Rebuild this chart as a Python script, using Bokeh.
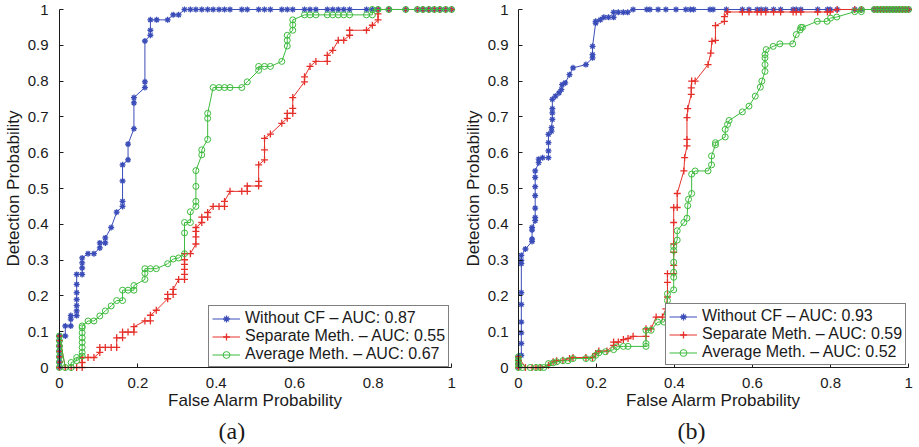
from bokeh.plotting import figure
from bokeh.layouts import row
from bokeh.models import Range1d, FixedTicker, CustomJSTickFormatter, Title, LinearAxis
from bokeh.embed import file_html
from bokeh.resources import INLINE

# ---------------- data: panel (a) ----------------
a_top_x = [0.334, 0.348, 0.363, 0.378, 0.392, 0.407, 0.421, 0.435, 0.465, 0.479, 0.508, 0.523,
           0.538, 0.567, 0.581, 0.595, 0.625, 0.639, 0.654, 0.683, 0.697, 0.711, 0.725, 0.74,
           0.783, 0.798, 0.8125, 0.84, 0.883, 0.913, 0.927, 0.942, 0.956, 0.97, 0.985, 1.0]

a_wo_x = [0, 0, 0, 0, 0, 0, 0, 0.015, 0.015, 0.029, 0.029, 0.029, 0.044, 0.044, 0.044, 0.044,
          0.044, 0.044, 0.044, 0.058, 0.058, 0.058, 0.058, 0.073, 0.088, 0.103, 0.103, 0.117,
          0.117, 0.132, 0.146, 0.161, 0.161, 0.161, 0.161, 0.175, 0.175, 0.19, 0.19, 0.19,
          0.218, 0.218, 0.218, 0.232, 0.232, 0.232, 0.248, 0.276, 0.29, 0.304, 0.319] + a_top_x
a_wo_y = [0.0, 0.015, 0.03, 0.045, 0.06, 0.075, 0.088, 0.088, 0.116, 0.116, 0.135, 0.145, 0.145,
          0.158, 0.173, 0.19, 0.209, 0.232, 0.26, 0.26, 0.278, 0.292, 0.306, 0.318, 0.318,
          0.334, 0.348, 0.348, 0.362, 0.391, 0.434, 0.45, 0.464, 0.521, 0.566, 0.58, 0.624,
          0.667, 0.739, 0.754, 0.782, 0.798, 0.912, 0.928, 0.942, 0.971, 0.971, 0.971, 0.985,
          0.985, 1.0] + [1.0] * len(a_top_x)

a_sep_x = [0, 0, 0, 0, 0, 0, 0, 0.015, 0.03, 0.044, 0.058, 0.058, 0.058, 0.073, 0.088, 0.103,
           0.103, 0.117, 0.132, 0.146, 0.146, 0.161, 0.161, 0.175, 0.19, 0.19, 0.218, 0.232,
           0.232, 0.247, 0.276, 0.276, 0.29, 0.29, 0.304, 0.319, 0.319, 0.319, 0.319, 0.319,
           0.319, 0.334, 0.348, 0.348, 0.348, 0.348, 0.363, 0.363, 0.378, 0.378, 0.392, 0.407,
           0.421, 0.421, 0.435, 0.465, 0.479, 0.479, 0.508, 0.508, 0.508, 0.523, 0.523, 0.523,
           0.538, 0.567, 0.581, 0.581, 0.595, 0.595, 0.595, 0.625, 0.625, 0.639, 0.654, 0.683,
           0.683, 0.697, 0.711, 0.725, 0.74, 0.74, 0.783, 0.798, 0.8125, 0.8125, 0.8125,
           0.84, 0.883, 0.913, 0.927, 0.942, 0.956, 0.97, 0.985, 1.0]
a_sep_y = [0.0, 0.015, 0.03, 0.045, 0.06, 0.075, 0.088, 0.0, 0.0, 0.0, 0.0, 0.014, 0.028, 0.028,
           0.028, 0.042, 0.056, 0.056, 0.056, 0.056, 0.083, 0.083, 0.099, 0.099, 0.099, 0.114,
           0.13, 0.13, 0.146, 0.16, 0.192, 0.204, 0.204, 0.218, 0.246, 0.246, 0.26, 0.274,
           0.288, 0.301, 0.318, 0.318, 0.345, 0.365, 0.38, 0.391, 0.405, 0.42, 0.42, 0.433,
           0.45, 0.45, 0.45, 0.464, 0.492, 0.492, 0.492, 0.507, 0.507, 0.52, 0.566, 0.58,
           0.608, 0.64, 0.652, 0.682, 0.696, 0.71, 0.71, 0.724, 0.754, 0.798, 0.812, 0.841,
           0.855, 0.855, 0.872, 0.886, 0.914, 0.914, 0.928, 0.942, 0.942, 0.956, 0.971, 0.988,
           1.0, 1.0, 1.0, 1.0, 1.0, 1.0, 1.0, 1.0, 1.0, 1.0]

a_avg_x = [0, 0, 0, 0, 0, 0, 0, 0.015, 0.03, 0.03, 0.044, 0.044, 0.058, 0.058, 0.058, 0.058,
           0.058, 0.058, 0.058, 0.058, 0.073, 0.088, 0.103, 0.117, 0.132, 0.146, 0.161, 0.161,
           0.175, 0.19, 0.19, 0.218, 0.218, 0.218, 0.232, 0.247, 0.276, 0.29, 0.304, 0.319,
           0.319, 0.319, 0.334, 0.334, 0.348, 0.348, 0.348, 0.348, 0.363, 0.363, 0.378, 0.378,
           0.378, 0.392, 0.407, 0.421, 0.435, 0.465, 0.479, 0.508, 0.508, 0.523, 0.538, 0.567,
           0.581, 0.581, 0.581, 0.595, 0.595, 0.595, 0.625, 0.639, 0.654, 0.683, 0.697, 0.711,
           0.725, 0.74, 0.783, 0.798, 0.798, 0.8125, 0.84, 0.883, 0.913, 0.927, 0.942, 0.956,
           0.97, 0.985, 1.0]
a_avg_y = [0.0, 0.015, 0.03, 0.045, 0.06, 0.075, 0.088, 0.0, 0.0, 0.014, 0.019, 0.028, 0.032,
           0.042, 0.056, 0.07, 0.083, 0.097, 0.111, 0.116, 0.13, 0.13, 0.144, 0.158, 0.172,
           0.187, 0.187, 0.216, 0.216, 0.216, 0.229, 0.246, 0.263, 0.276, 0.276, 0.276, 0.29,
           0.303, 0.306, 0.318, 0.376, 0.405, 0.405, 0.435, 0.45, 0.464, 0.506, 0.55, 0.594,
           0.608, 0.637, 0.696, 0.71, 0.782, 0.782, 0.782, 0.782, 0.782, 0.798, 0.83, 0.841,
           0.841, 0.841, 0.855, 0.898, 0.914, 0.928, 0.942, 0.957, 0.971, 0.985, 0.985, 0.985,
           0.985, 0.985, 0.985, 0.985, 0.985, 0.985, 0.985, 1.0, 1.0, 1.0, 1.0, 1.0, 1.0, 1.0,
           1.0, 1.0, 1.0, 1.0]

# ---------------- data: panel (b) ----------------
b_end_x = [0.862, 0.879, 0.912, 0.92, 0.928, 0.936, 0.944, 0.952, 0.96, 0.968, 0.976, 0.984,
           0.992, 1.0]
b_top_x = [0.329, 0.337, 0.358, 0.378, 0.404, 0.429, 0.441, 0.449, 0.491, 0.499, 0.533, 0.574,
           0.591, 0.612, 0.622, 0.634, 0.654, 0.672, 0.704, 0.712, 0.724, 0.767, 0.792, 0.799,
           0.817] + b_end_x

b_wo_x = [0, 0, 0, 0, 0.0075, 0.0075, 0.0075, 0.0075, 0.0075, 0.0075, 0.0075, 0.0075, 0.0075,
          0.018, 0.035, 0.035, 0.035, 0.035, 0.043, 0.043, 0.043, 0.043, 0.043, 0.043, 0.043,
          0.052, 0.052, 0.062, 0.077, 0.077, 0.077, 0.077, 0.085, 0.085, 0.087, 0.087, 0.087,
          0.087, 0.095, 0.104, 0.11, 0.112, 0.12, 0.131, 0.14, 0.173, 0.19, 0.19, 0.19, 0.198,
          0.198, 0.21, 0.219, 0.231, 0.244, 0.244, 0.256, 0.269, 0.28, 0.294] + b_top_x
b_wo_y = [0.0, 0.01, 0.02, 0.03, 0.034, 0.067, 0.097, 0.127, 0.176, 0.209, 0.29, 0.299, 0.313,
          0.331, 0.352, 0.359, 0.384, 0.391, 0.41, 0.419, 0.445, 0.48, 0.505, 0.531, 0.549,
          0.572, 0.582, 0.586, 0.586, 0.605, 0.628, 0.651, 0.66, 0.67, 0.693, 0.711, 0.723,
          0.749, 0.758, 0.767, 0.776, 0.79, 0.795, 0.818, 0.837, 0.846, 0.865, 0.874, 0.897,
          0.962, 0.967, 0.971, 0.978, 0.978, 0.978, 0.992, 0.992, 0.992, 0.992, 1.0] + [1.0] * len(b_top_x)

b_sep_x = [0, 0, 0, 0, 0.018, 0.035, 0.045, 0.056, 0.077, 0.089, 0.098, 0.114, 0.131, 0.14,
           0.173, 0.19, 0.198, 0.206, 0.227, 0.244, 0.244, 0.256, 0.269, 0.281, 0.294, 0.327,
           0.327, 0.34, 0.353, 0.369, 0.378, 0.382, 0.382, 0.382, 0.398, 0.398, 0.398, 0.398,
           0.398, 0.398, 0.407, 0.407, 0.424, 0.426, 0.432, 0.432, 0.432, 0.434, 0.443, 0.443,
           0.444, 0.453, 0.486, 0.493, 0.496, 0.505, 0.505, 0.528, 0.528, 0.536, 0.574, 0.591,
           0.612, 0.622, 0.634, 0.654, 0.672, 0.704, 0.712, 0.724, 0.767, 0.792, 0.799,
           0.817] + b_end_x
b_sep_y = [0.0, 0.01, 0.02, 0.03, 0.0, 0.0, 0.0, 0.0, 0.006, 0.016, 0.019, 0.02, 0.025, 0.028,
           0.028, 0.028, 0.039, 0.046, 0.046, 0.062, 0.071, 0.071, 0.078, 0.081, 0.087, 0.087,
           0.108, 0.108, 0.141, 0.141, 0.164, 0.197, 0.238, 0.262, 0.262, 0.285, 0.322, 0.345,
           0.405, 0.447, 0.447, 0.486, 0.549, 0.586, 0.619, 0.637, 0.698, 0.723, 0.763, 0.781,
           0.8, 0.8, 0.846, 0.878, 0.911, 0.914, 0.955, 0.967, 0.98, 0.993, 0.993, 0.993, 0.993,
           0.993, 0.993, 0.993, 0.993, 0.993, 0.993, 0.993, 0.993, 0.993, 0.993,
           1.0] + [1.0] * len(b_end_x)

b_avg_x = [0, 0, 0, 0, 0.01, 0.03, 0.045, 0.056, 0.065, 0.077, 0.089, 0.098, 0.114, 0.127,
           0.14, 0.173, 0.19, 0.198, 0.206, 0.223, 0.244, 0.252, 0.269, 0.281, 0.327, 0.327,
           0.327, 0.34, 0.357, 0.373, 0.382, 0.382, 0.382, 0.398, 0.398, 0.398, 0.398, 0.398,
           0.398, 0.407, 0.407, 0.424, 0.432, 0.434, 0.436, 0.444, 0.444, 0.453, 0.486, 0.495,
           0.495, 0.505, 0.505, 0.53, 0.53, 0.536, 0.54, 0.574, 0.591, 0.607, 0.62, 0.624,
           0.632, 0.632, 0.632, 0.632, 0.635, 0.653, 0.67, 0.703, 0.712, 0.722, 0.724, 0.728,
           0.766, 0.791, 0.8, 0.816, 0.862, 0.879, 0.879, 0.912, 0.92, 0.928, 0.936, 0.944,
           0.952, 0.96, 0.968, 0.976, 0.984, 0.992, 1.0]
b_avg_y = [0.0, 0.01, 0.02, 0.03, 0.0, 0.0, 0.0, 0.0, 0.0, 0.011, 0.013, 0.016, 0.019, 0.019,
           0.025, 0.025, 0.025, 0.034, 0.041, 0.044, 0.05, 0.058, 0.059, 0.059, 0.059, 0.067,
           0.104, 0.104, 0.127, 0.127, 0.15, 0.187, 0.206, 0.217, 0.252, 0.266, 0.294, 0.327,
           0.338, 0.356, 0.382, 0.405, 0.417, 0.452, 0.47, 0.486, 0.54, 0.549, 0.549, 0.566,
           0.591, 0.622, 0.628, 0.644, 0.665, 0.679, 0.69, 0.714, 0.73, 0.758, 0.783, 0.8,
           0.827, 0.846, 0.865, 0.874, 0.888, 0.897, 0.904, 0.904, 0.93, 0.943, 0.95, 0.95,
           0.967, 0.967, 0.976, 0.979, 0.994, 0.994, 1.0, 1.0, 1.0, 1.0, 1.0, 1.0, 1.0, 1.0,
           1.0, 1.0, 1.0, 1.0, 1.0]

a_labels = ["Without CF \u2013 AUC: 0.87", "Separate Meth. \u2013 AUC: 0.55", "Average Meth. \u2013 AUC: 0.67"]
b_labels = ["Without CF \u2013 AUC: 0.93", "Separate Meth. \u2013 AUC: 0.59", "Average Meth. \u2013 AUC: 0.52"]

x_ticks = [0, 0.2, 0.4, 0.6, 0.8, 1]
y_ticks = [0, 0.1, 0.2, 0.3, 0.4, 0.5, 0.6, 0.7, 0.8, 0.9, 1]

BLUE = "#3b4db8"
RED = "#e5302a"
GREEN = "#3dbb3d"
FONT = "Liberation Sans"
INK = "#1a1a1a"
PAD = 4.0


def make_panel(series, labels, tag, width, axis_x, axis_y0, pxw, pxh, ylab_standoff, tag_left,
               legend_pos):
    padx = PAD / pxw
    pady = PAD / pxh
    left = int(round(axis_x - PAD))
    fw = int(round(pxw + 2 * PAD))
    top = int(round(axis_y0 - pxh - PAD))
    fh = int(round(pxh + 2 * PAD))
    p = figure(width=width, height=447, output_backend="svg", toolbar_location=None,
               x_range=Range1d(-padx, 1 + padx), y_range=Range1d(-pady, 1 + pady),
               min_border_left=left, min_border_right=width - left - fw,
               min_border_top=top, min_border_bottom=447 - top - fh)
    p.outline_line_color = None
    p.grid.visible = False
    p.background_fill_color = "white"
    p.border_fill_color = "white"

    styles = [(BLUE, "asterisk", 6), (RED, "cross", 7), (GREEN, "circle", 6)]
    for (xs, ys), lab, (col, mk, sz) in zip(series, labels, styles):
        p.line(xs, ys, color=col, line_width=1, legend_label=lab)
        if mk == "circle":
            p.scatter(xs, ys, marker="circle", size=sz, line_color=col, fill_color=None,
                      line_width=1, legend_label=lab)
        else:
            p.scatter(xs, ys, marker=mk, size=sz, line_color=col, line_width=1.3,
                      legend_label=lab)

    fmt = CustomJSTickFormatter(code="return String(Math.round(tick*10)/10);")
    blank = CustomJSTickFormatter(code="return '';")

    # label-only axes in the side panels
    for ax, ticks in ((p.xaxis[0], x_ticks), (p.yaxis[0], y_ticks)):
        ax.ticker = FixedTicker(ticks=ticks)
        ax.formatter = fmt
        ax.axis_line_color = None
        ax.major_tick_line_color = None
        ax.minor_tick_line_color = None
        ax.major_label_text_font = FONT
        ax.major_label_text_font_size = "15px"
        ax.major_label_text_color = INK
        ax.axis_label_text_font = FONT
        ax.axis_label_text_font_size = "17px"
        ax.axis_label_text_font_style = "normal"
        ax.axis_label_text_color = INK
    p.xaxis.axis_label = "False Alarm Probability"
    p.yaxis.axis_label = "Detection Probability"
    p.xaxis.major_label_standoff = 0
    p.xaxis.axis_label_standoff = 0
    p.yaxis.major_label_standoff = ylab_standoff
    p.yaxis.axis_label_standoff = 2

    # line + inward ticks sitting exactly at data 0
    for side, ticks in (("below", x_ticks), ("left", y_ticks)):
        ax2 = LinearAxis(ticker=FixedTicker(ticks=ticks), formatter=blank, fixed_location=0,
                         bounds=(0, 1), major_tick_in=4, major_tick_out=0,
                         minor_tick_line_color=None, axis_line_color=INK,
                         major_tick_line_color=INK, axis_line_width=1)
        p.add_layout(ax2, side)

    lg = p.legend[0]
    lg.location = legend_pos
    lg.margin = 0
    lg.padding = 3
    lg.spacing = 0
    lg.glyph_width = 28
    lg.glyph_height = 17
    lg.label_height = 17
    lg.label_standoff = 5
    lg.label_text_font = FONT
    lg.label_text_font_size = "16px"
    lg.label_text_color = INK
    lg.border_line_color = "black"
    lg.border_line_width = 1.5
    lg.background_fill_alpha = 1.0

    p.add_layout(Title(text=tag, align="left", text_font="Liberation Serif",
                       text_font_size="24px", text_font_style="normal", text_color=INK,
                       offset=tag_left - left, standoff=6), "below")
    return p


pa = make_panel([(a_wo_x, a_wo_y), (a_sep_x, a_sep_y), (a_avg_x, a_avg_y)], a_labels, "(a)",
                460, 51, 368, 400.0, 359.0, 1, 210, (153, 4))
pb = make_panel([(b_wo_x, b_wo_y), (b_sep_x, b_sep_y), (b_avg_x, b_avg_y)], b_labels, "(b)",
                459, 49, 367, 399.0, 359.0, 0, 208, (151, 6))

layout = row(pa, pb)
open("out.html", "w").write(file_html(layout, INLINE))
